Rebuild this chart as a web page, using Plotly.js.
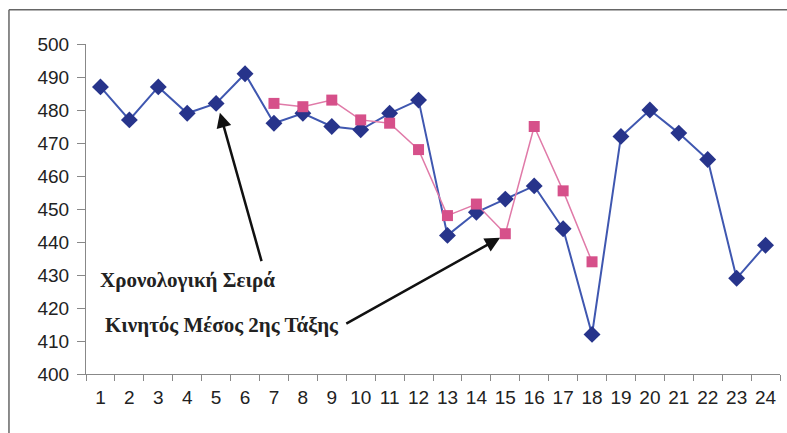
<!DOCTYPE html>
<html>
<head>
<meta charset="utf-8">
<script src="https://cdn.plot.ly/plotly-3.0.1.min.js"></script>
<style>html,body{margin:0;padding:0;background:#fff;}#chart{width:787px;height:433px;}</style>
</head>
<body>
<div id="chart"></div>
<script>
const periods = ['1','2','3','4','5','6','7','8','9','10','11','12','13','14','15','16','17','18','19','20','21','22','23','24'];
const seriesValues = [487,477,487,479,482,491,476,479,475,474,479,483,442,449,453,457,444,412,472,480,473,465,429,439];
const movingAvg = [null,null,null,null,null,null,482,481,483,477,476,468,448,451.5,442.5,475,455.5,434,null,null,null,null,null,null];
const yTicks = [400,410,420,430,440,450,460,470,480,490,500];

const traces = [
  {
    x: periods, y: seriesValues, type: 'scatter', mode: 'lines+markers',
    line: {color: '#3f57b0', width: 2},
    marker: {symbol: 'diamond', size: 13, color: '#27348b'},
    cliponaxis: false
  },
  {
    x: periods, y: movingAvg, type: 'scatter', mode: 'lines+markers',
    line: {color: '#e07aa8', width: 1.5},
    marker: {symbol: 'square', size: 11, color: '#d6508a'},
    connectgaps: false, cliponaxis: false
  }
];

const annFont = {family: 'Liberation Serif, Times New Roman, serif', size: 21, color: '#222'};
const layout = {
  width: 787, height: 433,
  margin: {l: 86, r: 7, t: 44, b: 59},
  paper_bgcolor: '#ffffff', plot_bgcolor: '#ffffff',
  showlegend: false,
  font: {family: 'Liberation Sans, Arial, sans-serif', color: '#222'},
  xaxis: {
    type: 'category', range: [-0.5, 23.5],
    tickson: 'boundaries', ticks: 'outside', ticklen: 6, tickcolor: '#888',
    showline: true, linecolor: '#888', linewidth: 1,
    showgrid: false, zeroline: false, tickangle: 0,
    tickfont: {size: 19, color: '#222'}, ticklabelstandoff: 6
  },
  yaxis: {
    range: [400, 500], tickvals: yTicks, ticktext: yTicks.map(String),
    ticks: 'outside', ticklen: 8, tickcolor: '#888',
    showline: true, linecolor: '#888', linewidth: 1,
    showgrid: false, zeroline: false,
    tickfont: {size: 19, color: '#222'}, ticklabelstandoff: 4
  },
  shapes: [
    {type: 'line', xref: 'paper', yref: 'paper', x0: -0.111, x1: -0.111, y0: -0.25, y1: 1.104, line: {color: '#666', width: 1.5}},
    {type: 'line', xref: 'paper', yref: 'paper', x0: -0.111, x1: 1.05, y0: 1.104, y1: 1.104, line: {color: '#666', width: 1.5}}
  ],
  annotations: [
    {x: -0.09, y: 428.6, xref: 'x', yref: 'y', xanchor: 'left', yanchor: 'middle', showarrow: false,
     text: '<b>Χρονολογική Σειρά</b>', font: annFont},
    {x: 0.09, y: 415, xref: 'x', yref: 'y', xanchor: 'left', yanchor: 'middle', showarrow: false,
     text: '<b>Κινητός Μέσος 2ης Τάξης</b>', font: annFont},
    {x: 4.13, y: 479.2, xref: 'x', yref: 'y', axref: 'x', ayref: 'y', ax: 5.59, ay: 433.6,
     text: ' ', showarrow: true, arrowhead: 2, arrowsize: 1.2, arrowwidth: 2.5, arrowcolor: '#111', font: {size: 1}},
    {x: 13.82, y: 441.3, xref: 'x', yref: 'y', axref: 'x', ayref: 'y', ax: 8.45, ay: 415,
     text: ' ', showarrow: true, arrowhead: 2, arrowsize: 1.2, arrowwidth: 2.5, arrowcolor: '#111', font: {size: 1}}
  ]
};

Plotly.newPlot('chart', traces, layout, {displayModeBar: false, staticPlot: true});
</script>
</body>
</html>
